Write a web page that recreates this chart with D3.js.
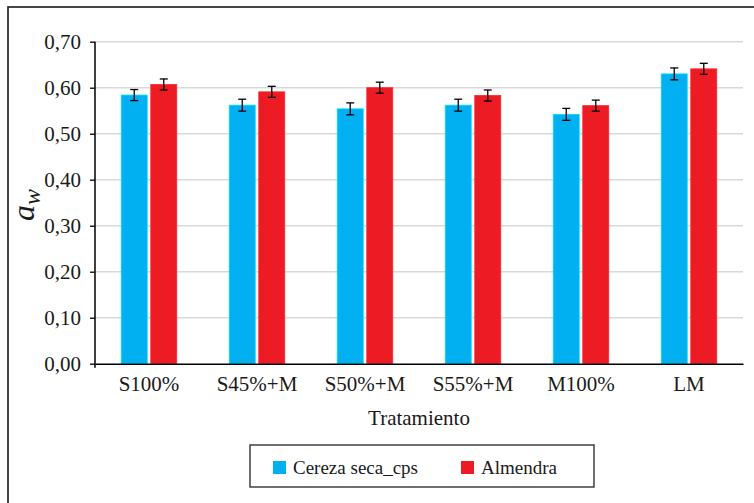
<!DOCTYPE html>
<html>
<head>
<meta charset="utf-8">
<script src="https://cdn.jsdelivr.net/npm/d3@7"></script>
<style>
  body { margin: 0; background: #fff; }
  svg { display: block; }
</style>
</head>
<body>
<svg id="chart" width="754" height="503"></svg>
<script>
// data
const categories = ["S100%", "S45%+M", "S50%+M", "S55%+M", "M100%", "LM"];
const seriesNames = ["Cereza seca_cps", "Almendra"];
const cereza = [0.584, 0.562, 0.554, 0.562, 0.542, 0.630];
const almendra = [0.607, 0.591, 0.600, 0.583, 0.561, 0.641];
const cerezaErr = [0.012, 0.013, 0.013, 0.013, 0.013, 0.013];
const almendraErr = [0.012, 0.012, 0.012, 0.012, 0.012, 0.012];
const yTicks = [0, 0.1, 0.2, 0.3, 0.4, 0.5, 0.6, 0.7];
const colours = ["#00b0f0", "#ed1c24"];

const serif = "'Liberation Serif', 'Times New Roman', serif";
const svg = d3.select("#chart");

// outer frame
svg.append("rect")
  .attr("x", 8).attr("y", 7)
  .attr("width", 760).attr("height", 520)
  .attr("fill", "none")
  .attr("stroke", "#1a1a1a")
  .attr("stroke-width", 1.6);

const plotL = 95, plotR = 743, plotT = 41.7, plotB = 363.7;

const x0 = d3.scaleBand().domain(categories).range([plotL, plotR]);
const x1 = d3.scaleBand().domain(seriesNames).range([0, 55.5]).paddingInner(0.12);
const y = d3.scaleLinear().domain([0, 0.7]).range([plotB, plotT]);

// gridlines
svg.append("g")
  .selectAll("line")
  .data(yTicks.slice(1))
  .join("line")
  .attr("x1", plotL).attr("x2", plotR)
  .attr("y1", d => y(d)).attr("y2", d => y(d))
  .attr("stroke", "#d9d9d9")
  .attr("stroke-width", 1.5);

// bars
const rows = categories.map((c, i) => [
  {cat: c, s: seriesNames[0], v: cereza[i], e: cerezaErr[i], col: colours[0]},
  {cat: c, s: seriesNames[1], v: almendra[i], e: almendraErr[i], col: colours[1]}
]).flat();

const bx = d => x0(d.cat) + x0.bandwidth() / 2 - 55.5 / 2 + x1(d.s);

svg.append("g")
  .selectAll("rect")
  .data(rows)
  .join("rect")
  .attr("x", bx)
  .attr("y", d => y(d.v))
  .attr("width", x1.bandwidth())
  .attr("height", d => y(0) - y(d.v))
  .attr("fill", d => d.col)
  .attr("stroke", d => d3.color(d.col).brighter(0.6))
  .attr("stroke-width", 0.8);

// error bars
const eg = svg.append("g").attr("stroke", "#000").attr("stroke-width", 1.3);
rows.forEach(d => {
  const cx = bx(d) + x1.bandwidth() / 2;
  eg.append("line").attr("x1", cx).attr("x2", cx)
    .attr("y1", y(d.v + d.e)).attr("y2", y(d.v - d.e));
  eg.append("line").attr("x1", cx - 4).attr("x2", cx + 4)
    .attr("y1", y(d.v + d.e)).attr("y2", y(d.v + d.e));
  eg.append("line").attr("x1", cx - 4).attr("x2", cx + 4)
    .attr("y1", y(d.v - d.e)).attr("y2", y(d.v - d.e));
});

// y axis
const yAxis = svg.append("g")
  .attr("transform", `translate(${plotL},0)`)
  .call(d3.axisLeft(y).tickValues(yTicks).tickSize(5).tickPadding(9)
    .tickFormat(d => d3.format(".2f")(d).replace(".", ",")));
yAxis.select(".domain").attr("stroke", "#000").attr("stroke-width", 1.5)
  .attr("d", `M0,${plotT}V${plotB + 4}`);
yAxis.selectAll(".tick line").attr("stroke", "#000").attr("stroke-width", 1.3);
yAxis.selectAll("text")
  .style("font-family", serif)
  .style("font-size", "21px")
  .attr("fill", "#1a1a1a");

// x axis
const xAxis = svg.append("g")
  .attr("transform", `translate(0,${plotB})`)
  .call(d3.axisBottom(x0).tickSize(0).tickPadding(12));
xAxis.select(".domain").attr("stroke", "#000").attr("stroke-width", 1.5);
xAxis.selectAll("text")
  .style("font-family", serif)
  .style("font-size", "21px")
  .attr("fill", "#1a1a1a");

// axis titles
svg.append("text")
  .attr("x", (plotL + plotR) / 2)
  .attr("y", 425)
  .attr("text-anchor", "middle")
  .style("font-family", serif)
  .style("font-size", "21px")
  .attr("fill", "#1a1a1a")
  .text("Tratamiento");

const yt = svg.append("text")
  .attr("transform", "translate(34,205) rotate(-90)")
  .attr("text-anchor", "middle")
  .style("font-family", serif)
  .style("font-style", "italic")
  .style("font-size", "32px")
  .attr("fill", "#1a1a1a");
yt.append("tspan").text("a");
yt.append("tspan").style("font-size", "24px").attr("dy", 6).text("w");

// legend
const lg = svg.append("g");
lg.append("rect")
  .attr("x", 250).attr("y", 445)
  .attr("width", 344).attr("height", 42)
  .attr("fill", "#fff")
  .attr("stroke", "#404040")
  .attr("stroke-width", 1.5);
const legendX = [273, 461];
seriesNames.forEach((s, i) => {
  lg.append("rect")
    .attr("x", legendX[i]).attr("y", 461)
    .attr("width", 13).attr("height", 13)
    .attr("fill", colours[i]);
  lg.append("text")
    .attr("x", legendX[i] + 20).attr("y", 474)
    .style("font-family", serif)
    .style("font-size", "19px")
    .attr("fill", "#1a1a1a")
    .text(s);
});
</script>
</body>
</html>
